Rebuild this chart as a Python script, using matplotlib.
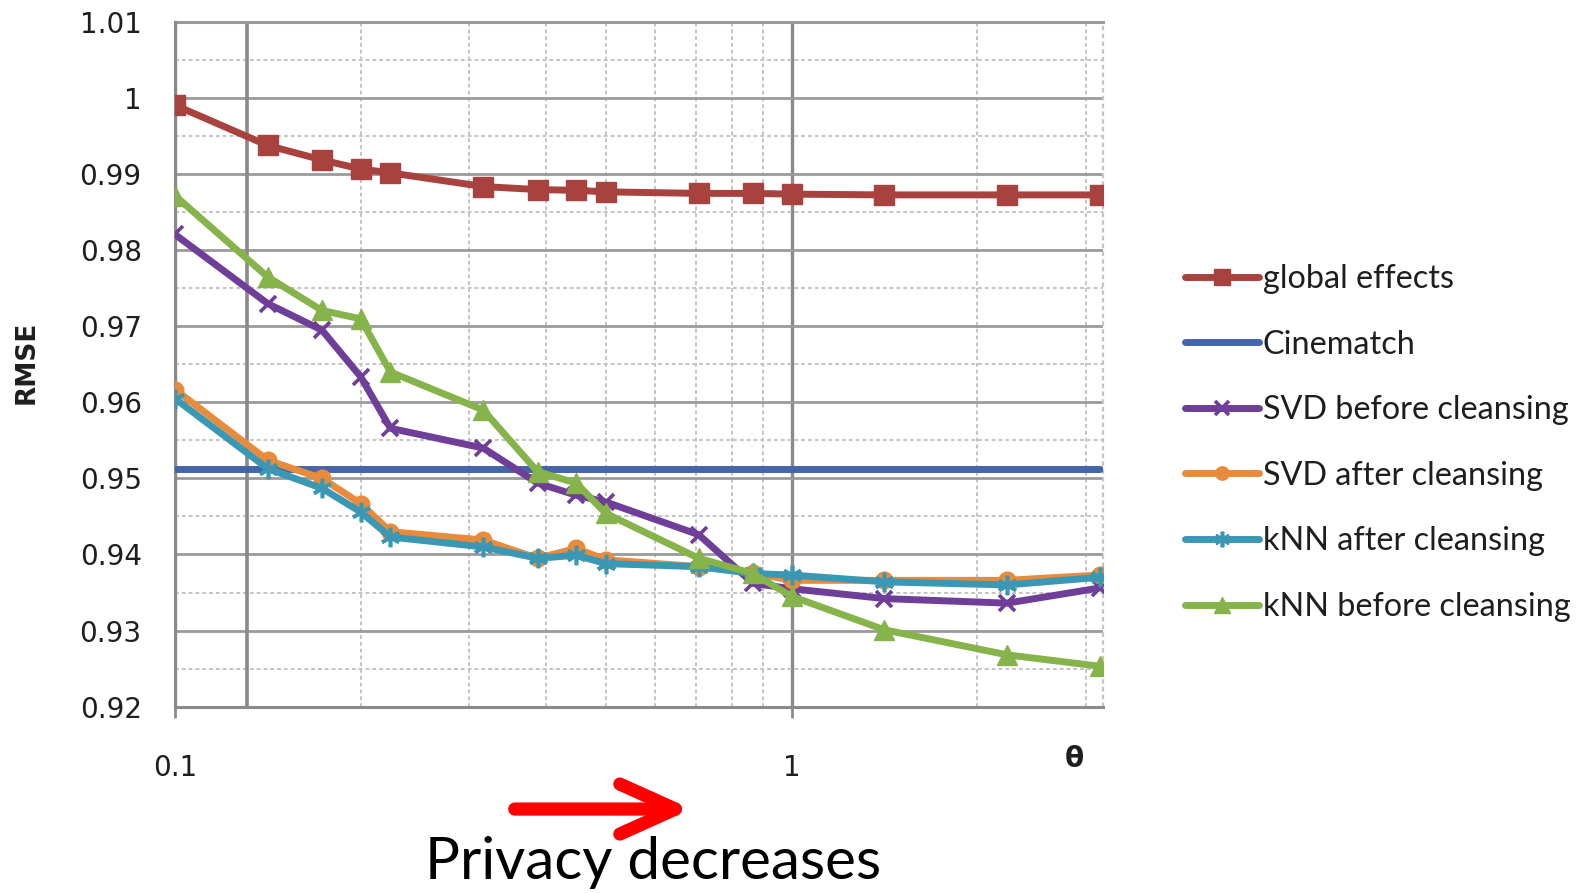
import matplotlib

matplotlib.use("Agg")
import matplotlib.pyplot as plt
from matplotlib.patches import FancyArrowPatch
from matplotlib.ticker import FixedLocator, LogLocator, NullFormatter

# theta values (sqrt(k)/10)
theta = [0.1, 0.1414, 0.1732, 0.2, 0.2236, 0.3162, 0.3873, 0.4472, 0.5,
         0.7071, 0.866, 1.0, 1.414, 2.236, 3.162]

global_effects = [0.9991, 0.9938, 0.9919, 0.9907, 0.9902, 0.9884, 0.9880, 0.9879,
                  0.9877, 0.9875, 0.9875, 0.9874, 0.9873, 0.9873, 0.9873]
cinematch = [0.9513] * len(theta)
svd_before = [0.9821, 0.9730, 0.9695, 0.9634, 0.9566, 0.9540, 0.9494, 0.9478,
              0.9469, 0.9426, 0.9362, 0.9355, 0.9342, 0.9336, 0.9356]
svd_after = [0.9617, 0.9524, 0.9500, 0.9467, 0.9430, 0.9419, 0.9395, 0.9408,
             0.9393, 0.9384, 0.9376, 0.9366, 0.9366, 0.9366, 0.9373]
knn_after = [0.9605, 0.9513, 0.9487, 0.9456, 0.9423, 0.9410, 0.9395, 0.9399,
             0.9388, 0.9384, 0.9375, 0.9373, 0.9364, 0.9360, 0.9370]
knn_before = [0.9872, 0.9765, 0.9721, 0.9710, 0.9640, 0.9590, 0.9509, 0.9494,
              0.9454, 0.9395, 0.9375, 0.9345, 0.9301, 0.9268, 0.9253]

y_ticks = [0.92, 0.93, 0.94, 0.95, 0.96, 0.97, 0.98, 0.99, 1.0, 1.01]
y_labels = ["0.92", "0.93", "0.94", "0.95", "0.96", "0.97", "0.98", "0.99", "1", "1.01"]
x_ticks = [0.1, 1]
x_labels = ["0.1", "1"]

series = [
    ("global effects", global_effects, "#A8423E", "s", 14, 1.0),
    ("Cinematch", cinematch, "#4465AA", None, 0, 0),
    ("SVD before cleansing", svd_before, "#6F3E98", "x", 12, 2.6),
    ("SVD after cleansing", svd_after, "#E88B3A", "o", 12, 1.0),
    ("kNN after cleansing", knn_after, "#3B98B5", (6, 2, 0), 14, 2.6),
    ("kNN before cleansing", knn_before, "#86B34A", "^", 15, 1.0),
]

fig = plt.figure(figsize=(15.85, 8.93), dpi=100)
ax = fig.add_axes([0.1104, 0.2088, 0.5855, 0.7662])

for label, vals, color, marker, ms, mew in series:
    ax.plot(theta, vals, color=color, lw=5.0, marker=marker, markersize=ms,
            markeredgewidth=mew, markeredgecolor=color, label=label, zorder=3,
            solid_capstyle="round")

ax.set_xscale("log")
ax.set_xlim(0.1, 3.2)
ax.set_ylim(0.92, 1.01)

# grid: solid majors, dashed minors
ax.yaxis.set_major_locator(FixedLocator(y_ticks))
ax.yaxis.set_minor_locator(FixedLocator([v + 0.005 for v in y_ticks[:-1]]))
ax.set_yticklabels(y_labels)
ax.xaxis.set_major_locator(FixedLocator(x_ticks))
ax.xaxis.set_minor_locator(LogLocator(base=10, subs=range(2, 10)))
ax.xaxis.set_minor_formatter(NullFormatter())
ax.set_xticklabels(x_labels)

ax.grid(which="major", axis="y", color="#9a9a9a", lw=2.0, zorder=1)
ax.grid(which="major", axis="x", color="#8a8a8a", lw=2.4, zorder=1)
ax.grid(which="minor", color="#c4c4c4", lw=1.4, ls=(0, (2, 1.5)), zorder=1)
ax.axvline(0.1307, color="#8a8a8a", lw=2.6, zorder=1)
ax.axvline(3.2, color="#c4c4c4", lw=1.6, ls=(0, (2, 1.5)), zorder=1, clip_on=False)
ax.set_axisbelow(True)

for side in ["top", "right"]:
    ax.spines[side].set_visible(False)
ax.axhline(1.01, color="#9a9a9a", lw=2.2, clip_on=False, zorder=1)
for side in ["left", "bottom"]:
    ax.spines[side].set_color("#8a8a8a")
    ax.spines[side].set_linewidth(2.2)

ax.tick_params(axis="y", which="both", length=0, pad=24, labelsize=20, labelcolor="#1e1e1e")
ax.tick_params(axis="x", which="major", length=8, width=2, color="#8a8a8a", pad=26,
               labelsize=20, labelcolor="#1e1e1e")
ax.tick_params(axis="x", which="minor", length=0)

fig.text(0.017, 0.594, "RMSE", rotation=90, fontsize=19, fontweight="bold",
         ha="center", va="center", color="#1e1e1e")
fig.text(0.678, 0.150, "θ", fontsize=20, fontweight="bold", ha="center", va="center",
         color="#1e1e1e")

leg = ax.legend(loc="upper left", bbox_to_anchor=(0.729, 0.737),
                bbox_transform=fig.transFigure, frameon=False,
                prop={"family": "Lato", "size": 23.3}, handlelength=2.3,
                handletextpad=0.12, labelspacing=1.1, markerscale=0.8)
for t in leg.get_texts():
    t.set_color("#1e1e1e")

arrow = FancyArrowPatch((0.323, 0.094), (0.438, 0.094), transform=fig.transFigure,
                        arrowstyle="->,head_length=1.0,head_width=0.45",
                        mutation_scale=40, color="#ff0000", lw=9.5,
                        capstyle="round", joinstyle="round")
fig.add_artist(arrow)
fig.text(0.412, 0.016, "Privacy decreases", fontsize=42, family="Lato",
         ha="center", va="baseline", color="black")

fig.savefig("out.png", dpi=100)
